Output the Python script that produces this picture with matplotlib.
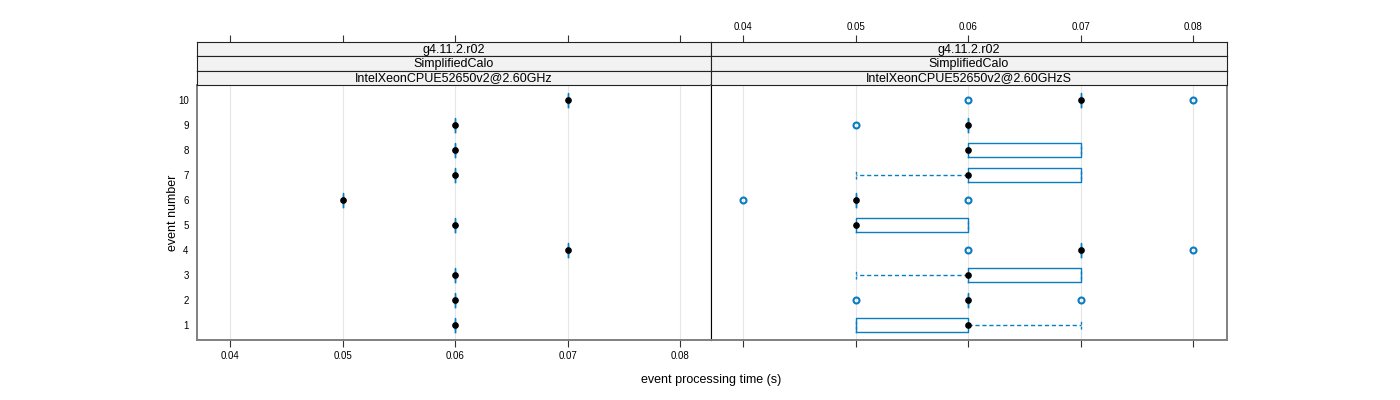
import matplotlib
matplotlib.use("Agg")
import matplotlib.pyplot as plt

plt.rcParams['font.family'] = ['Liberation Sans', 'DejaVu Sans']

# data
events = [1, 2, 3, 4, 5, 6, 7, 8, 9, 10]
xticks = [0.04, 0.05, 0.06, 0.07, 0.08]
strip_top = "g4.11.2.r02"
strip_mid = "SimplifiedCalo"
strip_cpu = ["IntelXeonCPUE52650v2@2.60GHz", "IntelXeonCPUE52650v2@2.60GHzS"]

# left panel: single value per event
left_med = [0.06, 0.06, 0.06, 0.07, 0.06, 0.05, 0.06, 0.06, 0.06, 0.07]

# right panel: box statistics per event
right_q1 = [0.05, 0.06, 0.06, 0.07, 0.05, 0.05, 0.06, 0.06, 0.06, 0.07]
right_med = [0.06, 0.06, 0.06, 0.07, 0.05, 0.05, 0.06, 0.06, 0.06, 0.07]
right_q3 = [0.06, 0.06, 0.07, 0.07, 0.06, 0.05, 0.07, 0.07, 0.06, 0.07]
right_wlo = [0.05, 0.06, 0.05, 0.07, 0.05, 0.05, 0.05, 0.06, 0.06, 0.07]
right_whi = [0.07, 0.06, 0.07, 0.07, 0.06, 0.05, 0.07, 0.07, 0.06, 0.07]
right_out = [[], [0.05, 0.07], [], [0.06, 0.08], [], [0.04, 0.06], [], [], [0.05], [0.06, 0.08]]

BLUE = "#0a7cc0"
GRAY = "#808080"

left_stats = [dict(med=m, q1=m, q3=m, whislo=m, whishi=m, fliers=[]) for m in left_med]
right_stats = [dict(med=m, q1=a, q3=b, whislo=lo, whishi=hi, fliers=o)
               for m, a, b, lo, hi, o in zip(right_med, right_q1, right_q3,
                                             right_wlo, right_whi, right_out)]

fig = plt.figure(figsize=(14, 4), dpi=100)

panels = [(197, 514, left_stats, left_med, 0, (0.03707, 0.08272)),
          (711, 516, right_stats, right_med, 1, (0.03716, 0.08298))]
y0 = 1 - 340 / 400
h = 255 / 400
sh = 14.3 / 400

for x_px, w_px, stats, meds, idx, xlim in panels:
    ax = fig.add_axes([x_px / 1400, y0, w_px / 1400, h])
    for t in xticks:
        ax.axvline(t, color="#e6e6e6", lw=0.8, zorder=0)
    ax.bxp(stats, positions=events, orientation='horizontal', widths=0.55,
           capwidths=0.3, showfliers=True, patch_artist=False,
           boxprops=dict(color=BLUE, lw=1.0),
           whiskerprops=dict(color=BLUE, lw=1.0, ls=(0, (3, 2))),
           capprops=dict(color=BLUE, lw=1.0, ls=(0, (2, 1.5))),
           medianprops=dict(lw=0),
           flierprops=dict(marker='o', markersize=4.3, markerfacecolor='none',
                           markeredgecolor=BLUE, markeredgewidth=1.5, linestyle='none'))
    ax.plot(meds, events, 'o', color='black', markersize=3.8, zorder=5)
    ax.set_xlim(*xlim)
    ax.set_ylim(0.4, 10.6)
    ax.set_xticks(xticks)
    ax.set_yticks(events)
    ax.tick_params(axis='x', direction='out', length=5, width=0.8, color='#333333',
                   labelsize=7, pad=3)
    for s in ax.spines.values():
        s.set_color(GRAY)
        s.set_linewidth(1.4)
    if idx == 0:
        ax.set_yticklabels([str(e) for e in events])
        ax.tick_params(axis='y', length=0, labelsize=7, pad=6)
        ax.set_ylabel("event number", fontsize=9, labelpad=-1)
        ax.spines['right'].set_color('black')
        ax.spines['right'].set_linewidth(0.8)
    else:
        ax.tick_params(axis='y', length=0, labelleft=False)
        ax.tick_params(axis='x', labelbottom=False)
        ax.spines['left'].set_color('black')
        ax.spines['left'].set_linewidth(0.8)

    labels = [strip_top, strip_mid, strip_cpu[idx]]
    for k, lab in enumerate(labels):
        sax = fig.add_axes([x_px / 1400, y0 + h + (2 - k) * sh, w_px / 1400, sh], sharex=ax)
        sax.set_facecolor("#f2f2f2")
        sax.set_yticks([])
        sax.text(0.5, 0.45, lab, transform=sax.transAxes, ha='center', va='center',
                 fontsize=9)
        for s in sax.spines.values():
            s.set_color("#222222")
            s.set_linewidth(0.8)
        if k == 0:
            sax.xaxis.set_ticks_position('top')
            sax.tick_params(axis='x', direction='out', length=5, width=0.8,
                            color='#333333', labelsize=7, pad=2,
                            labeltop=(idx == 1), labelbottom=False)
        else:
            sax.tick_params(axis='x', length=0, labelbottom=False, labeltop=False)

fig.text(711 / 1400, 1 - 380 / 400, "event processing time (s)", ha='center',
         va='center', fontsize=9)

fig.savefig("out.png", dpi=100)
